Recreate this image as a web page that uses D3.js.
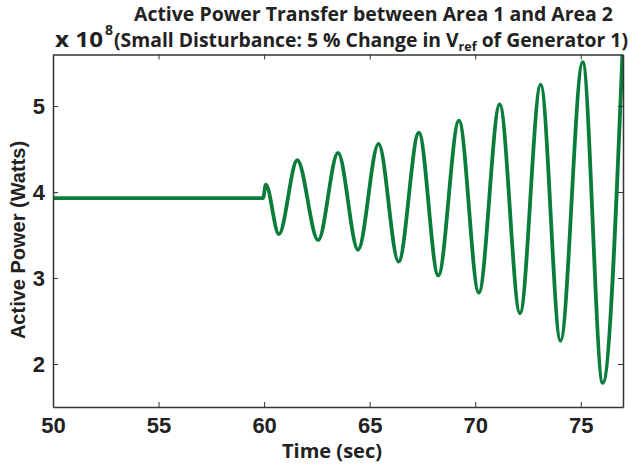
<!DOCTYPE html>
<html>
<head>
<meta charset="utf-8">
<script src="https://cdn.jsdelivr.net/npm/d3@7"></script>
<style>
  body { margin: 0; background: #fff; }
  svg { display: block; }
</style>
</head>
<body>
<div id="chart"></div>
<script>
// extrema (time in sec, power in 1e8 W)
const times = [50, 59.95, 60.08, 60.7, 61.57, 62.56, 63.5, 64.45, 65.42, 66.37, 67.33, 68.25, 69.23, 70.17, 71.16, 72.12, 73.1, 74.04, 75.09, 76.04, 77.0];
const power = [3.93, 3.93, 4.085, 3.51, 4.37, 3.44, 4.455, 3.33, 4.56, 3.19, 4.69, 3.03, 4.83, 2.83, 5.02, 2.59, 5.25, 2.27, 5.51, 1.78, 5.78];
const xTicks = [50, 55, 60, 65, 70, 75];
const yTicks = [2, 3, 4, 5];

const width = 634, height = 468;
const plotL = 53, plotR = 623, plotT = 54.5, plotB = 407;

const svg = d3.select('#chart').append('svg')
  .attr('width', width)
  .attr('height', height);

const x = d3.scaleLinear().domain([50, 77]).range([plotL, plotR]);
const y = d3.scaleLinear().domain([1.5, 5.6]).range([plotB, plotT]);

svg.append('clipPath').attr('id', 'clip')
  .append('rect')
  .attr('x', plotL).attr('y', plotT)
  .attr('width', plotR - plotL).attr('height', plotB - plotT);

const data = times.map((t, i) => ({ t: t, p: power[i] }));

const line = d3.line()
  .x(d => x(d.t))
  .y(d => y(d.p))
  .curve(d3.curveMonotoneX);

svg.append('path')
  .datum(data)
  .attr('clip-path', 'url(#clip)')
  .attr('d', line)
  .style('fill', 'none')
  .style('stroke', '#0b7d3b')
  .style('stroke-width', 3.8)
  .style('stroke-linejoin', 'round');

// axes: ticks point inward, box all round
const tickFont = '"Liberation Sans", Arial, sans-serif';
function styleAxis(g, showLabels) {
  g.select('.domain').style('stroke', '#333').style('stroke-width', 1.5);
  g.selectAll('.tick line').style('stroke', '#333').style('stroke-width', 1);
  g.selectAll('.tick text')
    .style('font-family', tickFont)
    .style('font-weight', 'bold')
    .style('font-size', '22px')
    .style('fill', '#222')
    .style('display', showLabels ? null : 'none');
}

svg.append('g')
  .attr('transform', `translate(0,${plotB})`)
  .call(d3.axisBottom(x).tickValues(xTicks).tickSizeInner(-5).tickSizeOuter(0).tickPadding(10).tickFormat(d3.format('d')))
  .call(g => styleAxis(g, true));

svg.append('g')
  .attr('transform', `translate(0,${plotT})`)
  .call(d3.axisTop(x).tickValues(xTicks).tickSizeInner(-5).tickSizeOuter(0))
  .call(g => styleAxis(g, false));

svg.append('g')
  .attr('transform', `translate(${plotL},0)`)
  .call(d3.axisLeft(y).tickValues(yTicks).tickSizeInner(-5).tickSizeOuter(0).tickPadding(8).tickFormat(d3.format('d')))
  .call(g => styleAxis(g, true));

svg.append('g')
  .attr('transform', `translate(${plotR},0)`)
  .call(d3.axisRight(y).tickValues(yTicks).tickSizeInner(-5).tickSizeOuter(0))
  .call(g => styleAxis(g, false));

// titles
const titleFont = '"Open Sans", sans-serif';
svg.append('text')
  .attr('x', 134).attr('y', 21)
  .attr('textLength', 479).attr('lengthAdjust', 'spacingAndGlyphs')
  .style('font-family', titleFont).style('font-weight', 'bold').style('font-size', '20px')
  .style('fill', '#222')
  .text('Active Power Transfer between Area 1 and Area 2');

svg.append('text')
  .attr('x', 55).attr('y', 47)
  .attr('textLength', 48).attr('lengthAdjust', 'spacingAndGlyphs')
  .style('font-family', titleFont).style('font-weight', 'bold').style('font-size', '21px')
  .style('fill', '#222')
  .text('x 10');

svg.append('text')
  .attr('x', 105).attr('y', 35)
  .style('font-family', titleFont).style('font-weight', 'bold').style('font-size', '14px')
  .style('fill', '#222')
  .text('8');

const sub = svg.append('text')
  .attr('x', 114).attr('y', 47)
  .attr('textLength', 514).attr('lengthAdjust', 'spacingAndGlyphs')
  .style('font-family', titleFont).style('font-weight', 'bold').style('font-size', '20px')
  .style('fill', '#222');
sub.append('tspan').text('(Small Disturbance: 5 % Change in V');
sub.append('tspan').attr('dy', 4).style('font-size', '13px').text('ref');
sub.append('tspan').attr('dy', -4).text(' of Generator 1)');

svg.append('text')
  .attr('x', 332).attr('y', 458)
  .attr('text-anchor', 'middle')
  .style('font-family', titleFont).style('font-weight', 'bold').style('font-size', '20px')
  .style('fill', '#222')
  .text('Time (sec)');

svg.append('text')
  .attr('transform', 'translate(25,240) rotate(-90)')
  .attr('text-anchor', 'middle')
  .style('font-family', tickFont).style('font-weight', 'bold').style('font-size', '20px')
  .style('fill', '#222')
  .text('Active Power (Watts)');
</script>
</body>
</html>
